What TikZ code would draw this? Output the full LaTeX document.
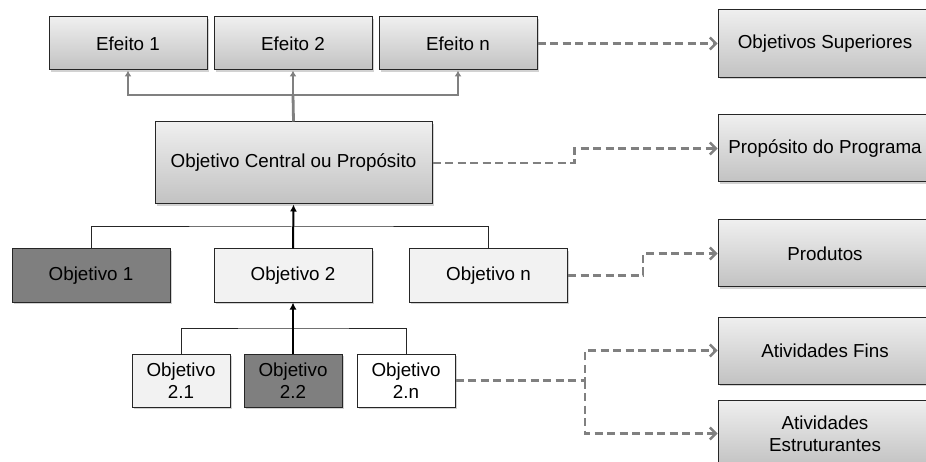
\documentclass[tikz,border=0pt]{standalone}
\usepackage{fontspec}
\setmainfont{Liberation Sans}
\usetikzlibrary{arrows.meta,shadows}
\definecolor{linkgray}{HTML}{808080}
\definecolor{darkfill}{HTML}{7F7F7F}
\definecolor{lightfill}{HTML}{F2F2F2}
\definecolor{edgecol}{HTML}{262626}
\definecolor{shadetop}{HTML}{EFEFEF}
\definecolor{shadebot}{HTML}{C2C2C2}
\tikzset{
  box/.style={draw=edgecol, line width=1pt, inner sep=0pt, align=center,
    font=\fontsize{18.8}{22}\selectfont,
    drop shadow={shadow xshift=1.5pt, shadow yshift=-2pt, opacity=0.35}},
  shadedbox/.style={box, top color=shadetop, bottom color=shadebot},
  darkbox/.style={box, fill=darkfill},
  lightbox/.style={box, fill=lightfill},
  whitebox/.style={box, fill=white},
  graylink/.style={draw=linkgray, line width=2.8pt, -{Latex[length=6pt,width=7pt]}},
  graystem/.style={draw=linkgray, line width=2.8pt},
  treeline/.style={draw=black!85, line width=1pt},
  treearrow/.style={draw=black, line width=2pt, -{Latex[length=7pt,width=7pt]}},
  dashlink/.style={draw=linkgray, line width=2.8pt, dash pattern=on 8pt off 4.5pt,
    -{Straight Barb[length=6pt,width=12pt,line width=2.4pt]}}
}
\begin{document}
\begin{tikzpicture}[x=1pt,y=-1pt]
  \fill[white] (0,0) rectangle (926,462);
  \useasboundingbox (0,0) rectangle (926,462);

  % effects row
  \node[shadedbox, minimum width=158pt, minimum height=53pt] (e1) at (128,43.5) {Efeito 1};
  \node[shadedbox, minimum width=158pt, minimum height=53pt] (e2) at (293,43.5) {Efeito 2};
  \node[shadedbox, minimum width=158pt, minimum height=53pt] (en) at (458,43.5) {Efeito n};

  % central objective
  \node[shadedbox, minimum width=277pt, minimum height=82pt] (central) at (293.5,163) {Objetivo Central ou Propósito};

  % objectives
  \node[darkbox,  minimum width=158pt, minimum height=53pt] (o1) at (91,275.5) {Objetivo 1};
  \node[lightbox, minimum width=158pt, minimum height=53pt] (o2) at (293,275.5) {Objetivo 2};
  \node[lightbox, minimum width=158pt, minimum height=53pt] (on) at (488.5,275.5) {Objetivo n};

  % sub-objectives
  \node[lightbox, minimum width=98pt, minimum height=53pt] (o21) at (181,380.5) {Objetivo\\2.1};
  \node[darkbox,  minimum width=98pt, minimum height=53pt] (o22) at (293,380.5) {Objetivo\\2.2};
  \node[whitebox, minimum width=98pt, minimum height=53pt] (o2n) at (406,380.5) {Objetivo\\2.n};

  % program logic column
  \node[shadedbox, minimum width=214pt, minimum height=68pt] (sup)  at (825,43.5)  {Objetivos Superiores};
  \node[shadedbox, minimum width=214pt, minimum height=67pt] (prop) at (825,148.5) {Propósito do Programa};
  \node[shadedbox, minimum width=214pt, minimum height=67pt] (prod) at (825,253.5) {Produtos};
  \node[shadedbox, minimum width=214pt, minimum height=67pt] (fins) at (825,350.5) {Atividades Fins};
  \node[shadedbox, minimum width=214pt, minimum height=67pt] (estr) at (825,433.5) {Atividades\\Estruturantes};

  % central objective to effects
  \coordinate (topfork) at (293,95);
  \draw[graystem] (central.north) -- (topfork);
  \draw[graylink] (topfork) -| (e1.south);
  \draw[graylink] (topfork) -- (e2.south);
  \draw[graylink] (topfork) -| (en.south);

  % objectives to central objective
  \coordinate (midfork) at (293,227);
  \draw[treeline] (o1.north) |- (midfork) -| (on.north);
  \draw[treearrow] (o2.north) -- (central.south);

  % sub-objectives to objective 2
  \coordinate (lowfork) at (293,328);
  \draw[treeline] (o21.north) |- (lowfork) -| (o2n.north);
  \draw[treearrow] (o22.north) -- (o2.south);

  % correspondence with the program logic
  \draw[dashlink] (en.east) -- (sup.west);
  \draw[dashlink] (central.east) -- ++(142,0) |- (prop.west);
  \draw[dashlink] (on.east) -- ++(75,0) |- (prod.west);
  \coordinate (split) at (585,380.5);
  \draw[dashlink] (o2n.east) -- (split) |- (fins.west);
  \draw[dashlink] (split) |- (estr.west);
\end{tikzpicture}
\end{document}
